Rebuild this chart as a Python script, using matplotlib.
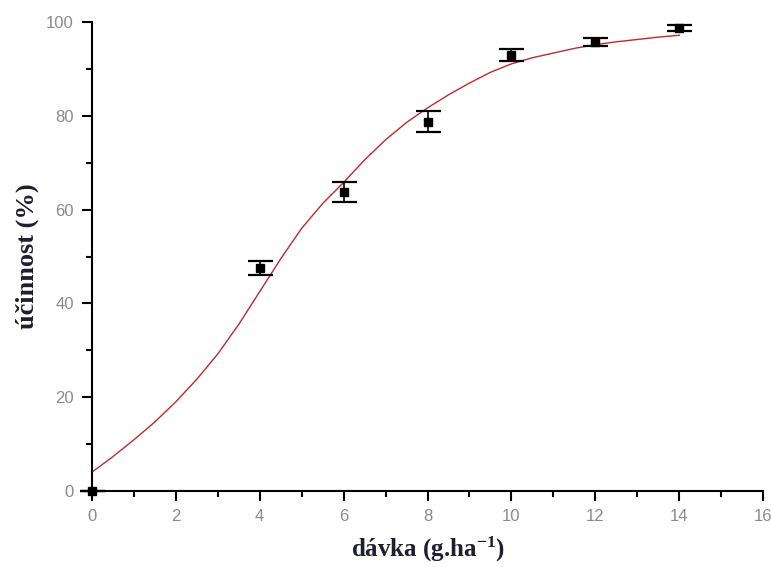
import numpy as np
import matplotlib
matplotlib.use("Agg")
import matplotlib.pyplot as plt
from matplotlib.ticker import MultipleLocator

# measured points
dose = [0, 4, 6, 8, 10, 12, 14]
eff = [0, 47.5, 63.8, 78.8, 93.0, 95.8, 98.7]
eff_err = [0, 1.5, 2.2, 2.3, 1.2, 0.8, 0.7]

# fitted curve
fit_x = [0, 0.5, 1, 1.5, 2, 2.5, 3, 3.5, 4, 4.5, 5, 5.5, 6, 6.5, 7,
         7.5, 8, 8.5, 9, 9.5, 10, 10.5, 11, 11.5, 12, 12.5, 13, 13.5, 14]
fit_y = [4.0, 7.3, 10.9, 14.7, 19.0, 23.8, 29.2, 35.5, 42.5, 49.5, 56.0, 61.3,
         65.8, 70.6, 74.9, 78.6, 81.7, 84.5, 87.0, 89.3, 91.1, 92.4, 93.4,
         94.4, 95.2, 95.8, 96.3, 96.8, 97.2]

plt.rcParams["mathtext.fontset"] = "custom"
plt.rcParams["mathtext.rm"] = "Liberation Serif:bold"
plt.rcParams["mathtext.it"] = "Liberation Serif:bold"
plt.rcParams["mathtext.bf"] = "Liberation Serif:bold"
plt.rcParams["mathtext.default"] = "rm"

fig = plt.figure(figsize=(7.71, 5.67), dpi=100)
ax = fig.add_axes([0.119, 0.134, 0.871, 0.827])

ax.plot(fit_x, fit_y, color="#c0282d", lw=1.0, zorder=2)
ax.errorbar(dose, eff, yerr=eff_err, fmt="s", color="black", ms=6,
            ecolor="black", elinewidth=1.2, capsize=9, capthick=1.6,
            clip_on=False, zorder=3)

ax.set_xlim(0, 16)
ax.set_ylim(0, 100)
ax.xaxis.set_major_locator(MultipleLocator(2))
ax.xaxis.set_minor_locator(MultipleLocator(1))
ax.yaxis.set_major_locator(MultipleLocator(20))
ax.yaxis.set_minor_locator(MultipleLocator(10))

for s in ["top", "right"]:
    ax.spines[s].set_visible(False)
for s in ["left", "bottom"]:
    ax.spines[s].set_linewidth(1.5)

ax.tick_params(which="major", direction="out", length=7, width=1.5,
               labelsize=12, labelcolor="#8a8a8a", pad=6)
ax.tick_params(which="minor", direction="out", length=4, width=1.5)
for lab in ax.get_xticklabels() + ax.get_yticklabels():
    lab.set_family("Liberation Sans")

ax.set_xlabel("dávka (g.ha$^{-1}$)", family="Liberation Serif",
              fontweight="bold", fontsize=18, color="#1e1e30", labelpad=8)
ax.set_ylabel("účinnost (%)", family="Liberation Serif",
              fontweight="bold", fontsize=19, color="#1e1e30", labelpad=5)

fig.savefig("out.png", dpi=100)
